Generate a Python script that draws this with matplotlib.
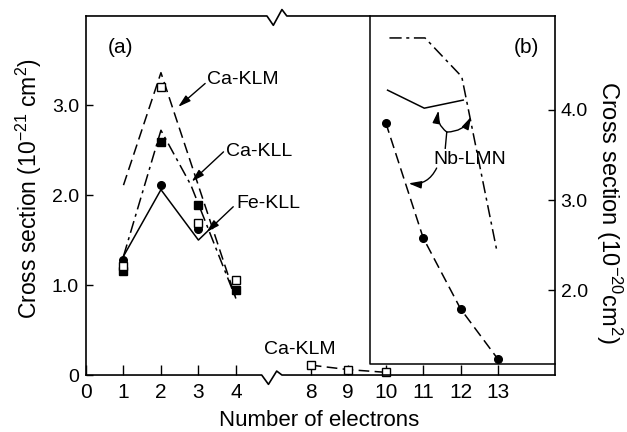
import numpy as np
import matplotlib
matplotlib.use('Agg')
import matplotlib.pyplot as plt

plt.rcParams['font.family'] = ['Liberation Sans', 'DejaVu Sans']
plt.rcParams['mathtext.fontset'] = 'custom'
plt.rcParams['mathtext.rm'] = 'Liberation Sans'
plt.rcParams['mathtext.it'] = 'Liberation Sans:italic'
plt.rcParams['mathtext.default'] = 'regular'

# ---------------- data ----------------
x_exp = [1, 2, 3, 4]
ca_klm_exp = [1.21, 3.20, 1.69, 1.06]
ca_kll_exp = [1.16, 2.59, 1.89, 0.94]
fe_kll_x = [1, 2, 3]
fe_kll_exp = [1.28, 2.11, 1.62]

ca_klm_th_x = [1, 2, 4]
ca_klm_th = [2.11, 3.36, 0.85]
ca_kll_th_x = [1, 2, 2.8, 4]
ca_kll_th = [1.32, 2.72, 2.11, 0.85]
fe_kll_th_x = [1, 2, 3, 3.3]
fe_kll_th = [1.32, 2.06, 1.50, 1.62]

ca_klm_hi_x = [8, 9, 10]
ca_klm_hi = [0.11, 0.06, 0.03]

nb_x = [10, 11, 12, 13]
nb_exp = [3.86, 2.58, 1.79, 1.23]
nb_solid_x = [10.05, 11.03, 12.07]
nb_solid = [4.22, 4.02, 4.11]
nb_dd_x = [10.1, 11.05, 12.03, 12.97]
nb_dd = [4.80, 4.80, 4.37, 2.43]

xticks = [0, 1, 2, 3, 4, 8, 9, 10, 11, 12, 13]
xticklabels = ['0', '1', '2', '3', '4', '8', '9', '10', '11', '12', '13']
yticks_left = [0, 1, 2, 3]
yticklabels_left = ['0', '1.0', '2.0', '3.0']
yticks_right = [2, 3, 4]
yticklabels_right = ['2.0', '3.0', '4.0']


# broken x axis: 4..8 compressed
def fwd(x):
    x = np.asarray(x, dtype=float)
    return np.where(x <= 4, x, np.where(x >= 8, x - 2, 4 + (x - 4) * 0.5))


def inv(p):
    p = np.asarray(p, dtype=float)
    return np.where(p <= 4, p, np.where(p >= 6, p + 2, 4 + (p - 4) * 2))


fig = plt.figure(figsize=(6.27, 4.32), dpi=100)
ax = fig.add_axes([0.1372, 0.1319, 0.7480, 0.8311])
ax.set_xscale('function', functions=(fwd, inv))
ax.set_xlim(0, 14.52)
ax.set_ylim(0, 3.99)

ax2 = ax.twinx()
ax2.set_ylim(1.056, 5.044)

LW = 1.1
dash = (0, (7, 3.5))
dashdot = (0, (8, 3, 2, 3))

# theory lines
ax.plot(ca_klm_th_x, ca_klm_th, color='black', lw=LW, ls=dash)
ax.plot(ca_kll_th_x, ca_kll_th, color='black', lw=LW, ls=dashdot)
ax.plot(fe_kll_th_x, fe_kll_th, color='black', lw=LW, ls='-')

# experimental points
ax.plot(x_exp, ca_kll_exp, ls='none', marker='s', ms=5.5, color='black', zorder=4)
ax.plot(x_exp, ca_klm_exp, ls='none', marker='s', ms=5.5, mfc='white', mec='black', mew=1, zorder=5)
ax.plot(fe_kll_x, fe_kll_exp, ls='none', marker='o', ms=5.5, color='black', zorder=4)

ax.plot(ca_klm_hi_x, ca_klm_hi, color='black', lw=LW, ls=dash, marker='s', ms=5.5,
        mfc='white', mec='black', mew=1, clip_on=False)

# panel (b) on the right axis
ax2.plot(nb_x, nb_exp, color='black', lw=LW, ls=dash, marker='o', ms=5.5)
ax2.plot(nb_solid_x, nb_solid, color='black', lw=LW, ls='-')
ax2.plot(nb_dd_x, nb_dd, color='black', lw=LW, ls=dashdot)

# spines
for s in ['top', 'bottom', 'right']:
    ax.spines[s].set_visible(False)
for s in ['top', 'bottom', 'left']:
    ax2.spines[s].set_visible(False)
ax.spines['left'].set_linewidth(1.2)
ax2.spines['right'].set_linewidth(1.2)

tr = ax.get_xaxis_transform()
ax.plot([0, 5.38, 5.74, 6.18, 6.46, 14.52], [0, 0, -0.026, 0.011, 0, 0],
        transform=tr, color='black', lw=1.2, clip_on=False, solid_capstyle='projecting')
ax.plot([0, 5.66, 6.0, 6.46, 6.72, 14.52], [1, 1, 0.974, 1.018, 1, 1],
        transform=tr, color='black', lw=1.2, clip_on=False, solid_capstyle='projecting')
# inner box of panel (b)
ax.plot([9.58, 9.58, 14.52], [1, 0.0306, 0.0306], transform=tr, color='black',
        lw=1.1, clip_on=False)

# ticks
ax.set_xticks(xticks)
ax.set_xticklabels(xticklabels)
ax.xaxis.set_minor_locator(matplotlib.ticker.NullLocator())
ax.tick_params(axis='x', direction='in', length=7.5, width=1, pad=6, labelsize=15)
ax.set_yticks(yticks_left)
ax.set_yticklabels(yticklabels_left)
ax.tick_params(axis='y', direction='in', length=5, width=1, pad=5, labelsize=14)
ax2.set_yticks(yticks_right)
ax2.set_yticklabels(yticklabels_right)
ax2.tick_params(axis='y', direction='in', length=5, width=1, pad=4, labelsize=14)

# axis titles
fig.text(319 / 627, 1 - 420 / 432, 'Number of electrons', fontsize=16,
         ha='center', va='center')
fig.text(29 / 627, 1 - 189 / 432, 'Cross section (10$^{-21}$ cm$^2$)', fontsize=16.5,
         rotation=90, ha='center', va='center')
fig.text(609 / 627, 1 - 212 / 432, 'Cross section (10$^{-20}$cm$^2$)', fontsize=17,
         rotation=270, ha='center', va='center')

# annotations
ap = dict(arrowstyle='-|>,head_length=0.75,head_width=0.22', lw=1, color='black',
          shrinkA=0, shrinkB=0, mutation_scale=10)
ax.text(0.91, 3.64, '(a)', fontsize=15, ha='center', va='center')
ax.text(13.75, 3.64, '(b)', fontsize=15, ha='center', va='center')

ax.text(4.38, 3.28, 'Ca-KLM', fontsize=14, ha='center', va='center')
ax.annotate('', xy=(2.46, 2.98), xytext=(3.18, 3.24), arrowprops=ap)
ax.text(5.26, 2.48, 'Ca-KLL', fontsize=14, ha='center', va='center')
ax.annotate('', xy=(2.82, 2.15), xytext=(3.67, 2.48), arrowprops=ap)
ax.text(5.74, 1.91, 'Fe-KLL', fontsize=14, ha='center', va='center')
ax.annotate('', xy=(3.22, 1.59), xytext=(3.93, 1.87), arrowprops=ap)
ax.text(7.42, 0.28, 'Ca-KLM', fontsize=14, ha='center', va='center')

ax.text(12.25, 2.39, 'Nb-LMN', fontsize=14, ha='center', va='center')
ap_c = dict(ap)
ap_c['connectionstyle'] = 'arc3,rad=-0.35'
ax.annotate('', xy=(10.61, 2.13), xytext=(11.36, 2.30), arrowprops=ap_c)
ax.plot([11.59, 11.63], [2.52, 2.70], color='black', lw=1)
ap_l = dict(ap)
ap_l['connectionstyle'] = 'arc3,rad=-0.3'
ax.annotate('', xy=(11.41, 2.94), xytext=(11.63, 2.70), arrowprops=ap_l)
ap_r = dict(ap)
ap_r['connectionstyle'] = 'arc3,rad=0.3'
ax.annotate('', xy=(12.28, 2.87), xytext=(11.63, 2.70), arrowprops=ap_r)

fig.savefig('out.png', dpi=100)
